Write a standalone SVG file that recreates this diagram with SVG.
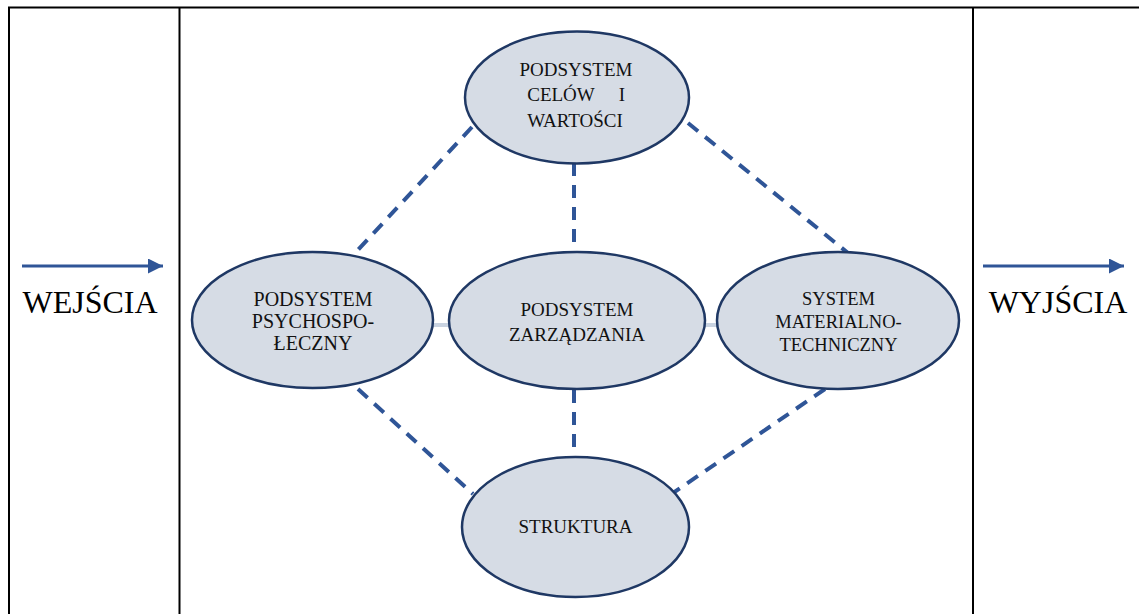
<svg xmlns="http://www.w3.org/2000/svg" width="1139" height="614" viewBox="0 0 1139 614">
  <style>
    .frame { stroke: #000; stroke-width: 2; fill: none; }
    .node ellipse { fill: #d6dce5; stroke: #1f3864; stroke-width: 2.5; }
    .label { font-family: "Liberation Serif", "DejaVu Serif", serif; fill: #111; text-anchor: middle; }
    .dash { stroke: #2f5597; stroke-width: 4; stroke-dasharray: 13 9; fill: none; }
    .link { stroke: #c9d3e1; stroke-width: 4; fill: none; }
    .flow { stroke: #2f5597; stroke-width: 3; fill: none; }
    .big { font-family: "Liberation Serif", "Times New Roman", serif; font-size: 32px; fill: #000; text-anchor: middle; }
  </style>
  <defs>
    <marker id="head" viewBox="0 0 10 10" refX="10" refY="5" markerWidth="5" markerHeight="5" markerUnits="strokeWidth" orient="auto">
      <path d="M0,0 L10,5 L0,10 z" fill="#2f5597"/>
    </marker>
  </defs>

  <rect width="1139" height="614" fill="#fff"/>

  <!-- table frame -->
  <g id="frame">
    <line class="frame" x1="8" y1="7.5" x2="1139" y2="7.5"/>
    <line class="frame" x1="9" y1="7" x2="9" y2="614"/>
    <line class="frame" x1="179.5" y1="7" x2="179.5" y2="614"/>
    <line class="frame" x1="973" y1="7" x2="973" y2="614"/>
  </g>

  <!-- inputs / outputs -->
  <g id="inputs">
    <line class="flow" x1="22" y1="266" x2="163" y2="266" marker-end="url(#head)"/>
    <text class="big" x="90" y="313">WEJŚCIA</text>
  </g>
  <g id="outputs">
    <line class="flow" x1="983" y1="266" x2="1124" y2="266" marker-end="url(#head)"/>
    <text class="big" x="1058" y="313">WYJŚCIA</text>
  </g>

  <!-- connectors -->
  <g id="connectors">
    <line class="dash" x1="472" y1="127" x2="357" y2="251"/>
    <line class="dash" x1="574" y1="163" x2="574" y2="252"/>
    <line class="dash" x1="688" y1="123" x2="848" y2="253"/>
    <line class="dash" x1="358" y1="389" x2="473" y2="494"/>
    <line class="dash" x1="574" y1="390" x2="574" y2="457"/>
    <line class="dash" x1="825" y1="389" x2="673" y2="493"/>
    <line class="link" x1="431" y1="325" x2="451" y2="325"/>
    <line class="link" x1="703" y1="325" x2="719" y2="325"/>
  </g>

  <!-- nodes -->
  <g id="node-cele" class="node">
    <ellipse cx="577" cy="97.5" rx="112" ry="66"/>
    <text class="label" font-size="19" x="576" y="76">PODSYSTEM</text>
    <text class="label" font-size="19" x="561" y="101">CELÓW</text>
    <text class="label" font-size="19" x="622" y="101">I</text>
    <text class="label" font-size="19" x="575" y="127">WARTOŚCI</text>
  </g>

  <g id="node-psycho" class="node">
    <ellipse cx="312.5" cy="320" rx="120.5" ry="68"/>
    <text class="label" font-size="20" x="313" y="306">PODSYSTEM</text>
    <text class="label" font-size="20" x="313" y="328">PSYCHOSPO-</text>
    <text class="label" font-size="20" x="313" y="350">ŁECZNY</text>
  </g>

  <g id="node-zarzadzanie" class="node">
    <ellipse cx="577" cy="320.5" rx="128" ry="68.5"/>
    <text class="label" font-size="19" x="577" y="316">PODSYSTEM</text>
    <text class="label" font-size="19" x="577" y="341">ZARZĄDZANIA</text>
  </g>

  <g id="node-material" class="node">
    <ellipse cx="838" cy="320.5" rx="121" ry="68.5"/>
    <text class="label" font-size="18.5" x="838.5" y="305">SYSTEM</text>
    <text class="label" font-size="18.5" x="838.5" y="328">MATERIALNO-</text>
    <text class="label" font-size="18.5" x="838.5" y="351">TECHNICZNY</text>
  </g>

  <g id="node-struktura" class="node">
    <ellipse cx="575.5" cy="527" rx="113.5" ry="70"/>
    <text class="label" font-size="19" x="575.5" y="533">STRUKTURA</text>
  </g>
</svg>
